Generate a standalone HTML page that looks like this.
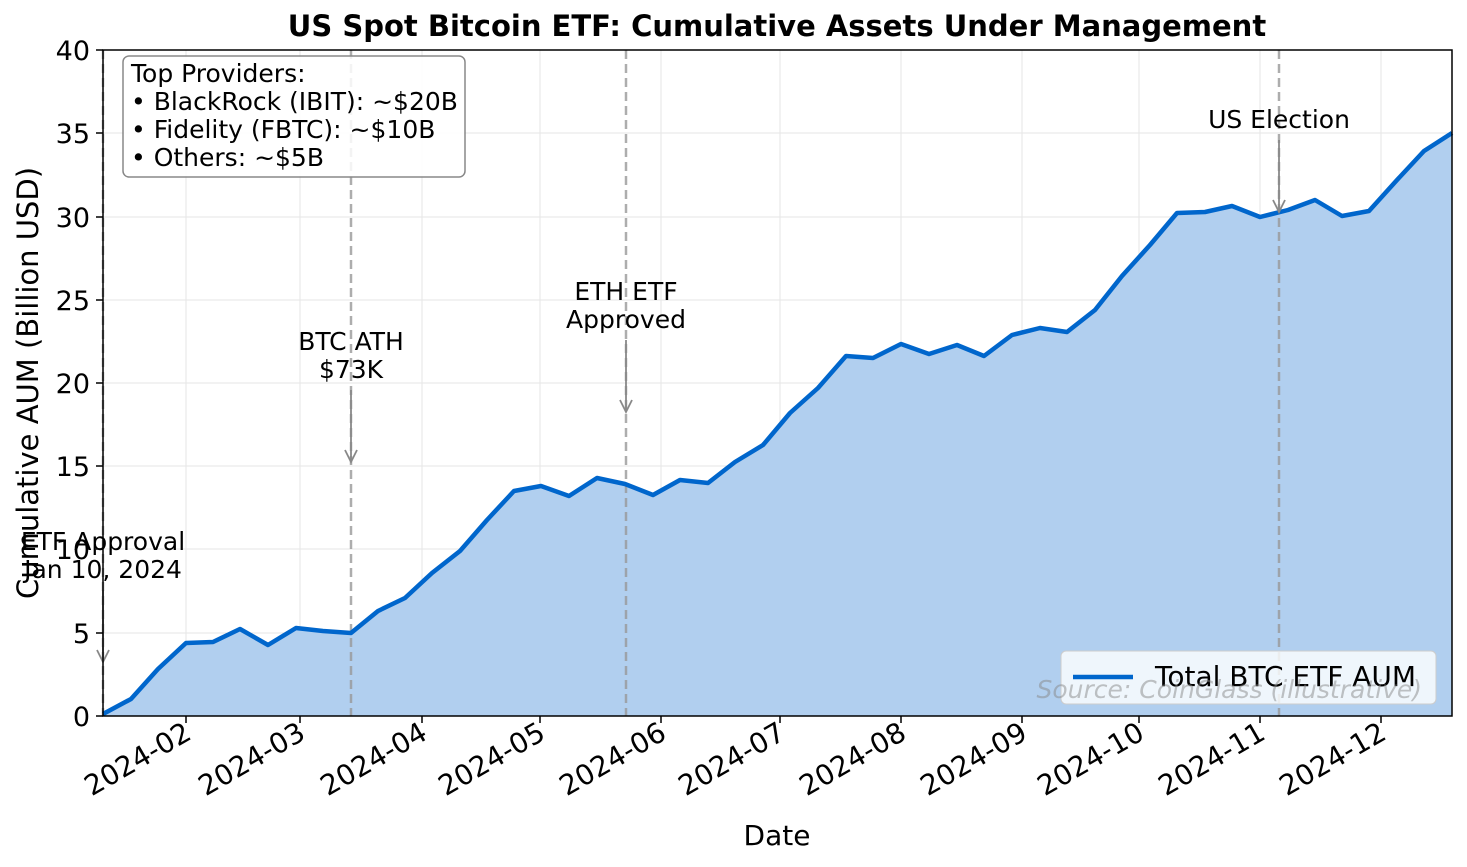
<!DOCTYPE html>
<html><head><meta charset="utf-8"><style>body{margin:0;background:#fff}svg{display:block}text{font-family:"DejaVu Sans","Liberation Sans",sans-serif}</style></head>
<body>
<svg width="1467" height="867" viewBox="0 0 1467 867" xmlns="http://www.w3.org/2000/svg">
<rect width="1467" height="867" fill="#fff"/>
<g stroke="#e6e6e6" stroke-width="1">
<line x1="186" y1="50" x2="186" y2="716"/><line x1="300" y1="50" x2="300" y2="716"/><line x1="422" y1="50" x2="422" y2="716"/><line x1="540" y1="50" x2="540" y2="716"/><line x1="661" y1="50" x2="661" y2="716"/><line x1="780" y1="50" x2="780" y2="716"/><line x1="901" y1="50" x2="901" y2="716"/><line x1="1022" y1="50" x2="1022" y2="716"/><line x1="1139" y1="50" x2="1139" y2="716"/><line x1="1260" y1="50" x2="1260" y2="716"/><line x1="1381" y1="50" x2="1381" y2="716"/>
<line x1="103" y1="633" x2="1452" y2="633"/><line x1="103" y1="549" x2="1452" y2="549"/><line x1="103" y1="466" x2="1452" y2="466"/><line x1="103" y1="383" x2="1452" y2="383"/><line x1="103" y1="300" x2="1452" y2="300"/><line x1="103" y1="217" x2="1452" y2="217"/><line x1="103" y1="133" x2="1452" y2="133"/>
</g>
<path d="M103,714 L131,699 L158,669 L186,643 L213,642 L240,629 L268,645 L296,628 L323,631 L351,633 L378,611 L405,598 L432,573 L460,551 L487,520 L514,491 L541,486 L569,496 L597,478 L625,484 L653,495 L680,480 L708,483 L735,462 L763,445 L790,413 L818,388 L846,356 L873,358 L901,344 L929,354 L957,345 L984,356 L1012,335 L1040,328 L1067,332 L1095,310 L1122,276 L1150,245 L1177,213 L1205,212 L1232,206 L1260,217 L1288,210 L1315,200 L1342,216 L1369,211 L1397,180 L1424,151 L1452,133 L1452,716 L103,716 Z" fill="#b1cfef"/>
<g stroke="#999" stroke-width="2.5" stroke-dasharray="9,5" opacity="0.8">
<line x1="103" y1="50" x2="103" y2="716"/><line x1="351" y1="50" x2="351" y2="716"/><line x1="626" y1="50" x2="626" y2="716"/><line x1="1279" y1="50" x2="1279" y2="716"/>
</g>
<path d="M103,714 L131,699 L158,669 L186,643 L213,642 L240,629 L268,645 L296,628 L323,631 L351,633 L378,611 L405,598 L432,573 L460,551 L487,520 L514,491 L541,486 L569,496 L597,478 L625,484 L653,495 L680,480 L708,483 L735,462 L763,445 L790,413 L818,388 L846,356 L873,358 L901,344 L929,354 L957,345 L984,356 L1012,335 L1040,328 L1067,332 L1095,310 L1122,276 L1150,245 L1177,213 L1205,212 L1232,206 L1260,217 L1288,210 L1315,200 L1342,216 L1369,211 L1397,180 L1424,151 L1452,133" fill="none" stroke="#0066cc" stroke-width="4.5" stroke-linejoin="round"/>
<g stroke="#888" stroke-width="1.8" fill="none">
<line x1="103" y1="590" x2="103" y2="662"/><path d="M97,650 L103,662 L109,650"/>
<line x1="351" y1="390" x2="351" y2="462"/><path d="M345,450 L351,462 L357,450"/>
<line x1="626" y1="340" x2="626" y2="412"/><path d="M620,400 L626,412 L632,400"/>
<line x1="1279" y1="140" x2="1279" y2="212"/><path d="M1273,200 L1279,212 L1285,200"/>
</g>
<g font-size="25" fill="#000" text-anchor="middle">
<text x="103" y="550">ETF Approval</text><text x="103" y="578">Jan 10, 2024</text>
<text x="351" y="350">BTC ATH</text><text x="351" y="378">$73K</text>
<text x="626" y="300">ETH ETF</text><text x="626" y="328">Approved</text>
<text x="1279" y="128">US Election</text>
</g>
<rect x="1061" y="651" width="375" height="53" rx="5" fill="#fff" fill-opacity="0.8" stroke="#ccc"/>
<line x1="1073" y1="677" x2="1133" y2="677" stroke="#0066cc" stroke-width="4.5"/>
<text x="1155" y="686" font-size="28">Total BTC ETF AUM</text>
<text x="1422" y="698" font-size="25" font-style="italic" fill="#888" fill-opacity="0.5" text-anchor="end">Source: CoinGlass (illustrative)</text>
<rect x="123" y="56" width="342" height="121" rx="6" fill="#fff" fill-opacity="0.85" stroke="#888" stroke-width="1.5"/>
<g font-size="25"><text x="131" y="82">Top Providers:</text><text x="131" y="110">• BlackRock (IBIT): ~$20B</text><text x="131" y="138">• Fidelity (FBTC): ~$10B</text><text x="131" y="166">• Others: ~$5B</text></g>
<rect x="103" y="50" width="1349" height="666" fill="none" stroke="#000" stroke-width="1.5"/>
<g stroke="#000" stroke-width="1.5">
<line x1="96" y1="716" x2="103" y2="716"/><line x1="96" y1="633" x2="103" y2="633"/><line x1="96" y1="549" x2="103" y2="549"/><line x1="96" y1="466" x2="103" y2="466"/><line x1="96" y1="383" x2="103" y2="383"/><line x1="96" y1="300" x2="103" y2="300"/><line x1="96" y1="217" x2="103" y2="217"/><line x1="96" y1="133" x2="103" y2="133"/><line x1="96" y1="50" x2="103" y2="50"/>
<line x1="186" y1="716" x2="186" y2="723"/><line x1="300" y1="716" x2="300" y2="723"/><line x1="422" y1="716" x2="422" y2="723"/><line x1="540" y1="716" x2="540" y2="723"/><line x1="661" y1="716" x2="661" y2="723"/><line x1="780" y1="716" x2="780" y2="723"/><line x1="901" y1="716" x2="901" y2="723"/><line x1="1022" y1="716" x2="1022" y2="723"/><line x1="1139" y1="716" x2="1139" y2="723"/><line x1="1260" y1="716" x2="1260" y2="723"/><line x1="1381" y1="716" x2="1381" y2="723"/>
</g>
<g font-size="27" text-anchor="end">
<text x="90" y="726">0</text><text x="90" y="643">5</text><text x="90" y="559">10</text><text x="90" y="476">15</text><text x="90" y="393">20</text><text x="90" y="310">25</text><text x="90" y="227">30</text><text x="90" y="143">35</text><text x="90" y="60">40</text>
</g>
<g font-size="28" text-anchor="end">
<text transform="translate(193,738) rotate(-30)">2024-02</text>
<text transform="translate(307,738) rotate(-30)">2024-03</text>
<text transform="translate(429,738) rotate(-30)">2024-04</text>
<text transform="translate(547,738) rotate(-30)">2024-05</text>
<text transform="translate(668,738) rotate(-30)">2024-06</text>
<text transform="translate(787,738) rotate(-30)">2024-07</text>
<text transform="translate(908,738) rotate(-30)">2024-08</text>
<text transform="translate(1029,738) rotate(-30)">2024-09</text>
<text transform="translate(1146,738) rotate(-30)">2024-10</text>
<text transform="translate(1267,738) rotate(-30)">2024-11</text>
<text transform="translate(1388,738) rotate(-30)">2024-12</text>
</g>
<text x="777" y="845" font-size="28" text-anchor="middle">Date</text>
<text transform="translate(38,383) rotate(-90)" font-size="29" text-anchor="middle">Cumulative AUM (Billion USD)</text>
<text x="777" y="36" font-size="29" font-weight="bold" text-anchor="middle">US Spot Bitcoin ETF: Cumulative Assets Under Management</text>
</svg>
</body></html>
